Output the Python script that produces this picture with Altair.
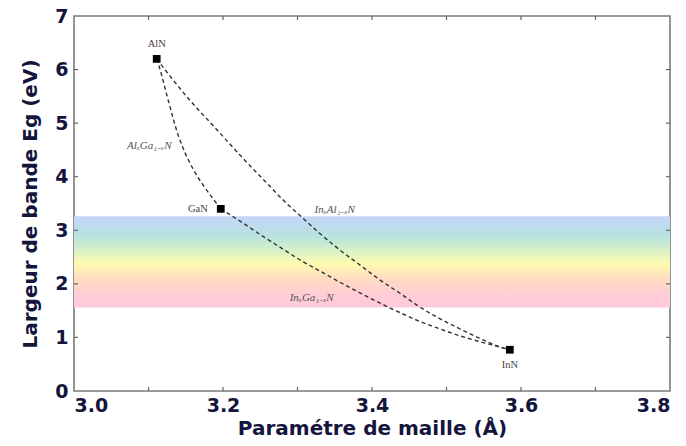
import altair as alt
import pandas as pd

# ---- data ----
compounds = ["AlN", "GaN", "InN"]
comp_a = [3.111, 3.197, 3.585]
comp_eg = [6.20, 3.40, 0.77]

algan_a = [3.111, 3.117, 3.122, 3.127, 3.133, 3.140, 3.149, 3.160, 3.173, 3.186, 3.197]
algan_eg = [6.20, 5.93, 5.66, 5.40, 5.09, 4.77, 4.45, 4.14, 3.85, 3.60, 3.40]

inaln_a = [3.111, 3.122, 3.156, 3.189, 3.223, 3.263, 3.281, 3.303, 3.330, 3.357, 3.384,
           3.411, 3.438, 3.464, 3.491, 3.518, 3.545, 3.572, 3.585]
inaln_eg = [6.20, 6.00, 5.42, 4.92, 4.40, 3.82, 3.56, 3.28, 2.94, 2.63, 2.35,
            2.07, 1.82, 1.57, 1.35, 1.16, 0.98, 0.82, 0.77]

ingan_a = [3.197, 3.223, 3.250, 3.277, 3.303, 3.330, 3.357, 3.384, 3.411, 3.438, 3.464,
           3.491, 3.518, 3.545, 3.572, 3.585]
ingan_eg = [3.40, 3.17, 2.92, 2.68, 2.45, 2.24, 2.03, 1.83, 1.64, 1.46, 1.30,
            1.16, 1.03, 0.92, 0.82, 0.77]

alloy_labels = ["AlₓGa₁₋ₓN", "InₓAl₁₋ₓN", "InₓGa₁₋ₓN"]
alloy_label_a = [3.101, 3.350, 3.319]
alloy_label_eg = [4.58, 3.37, 1.73]

visible_band = [1.56, 3.26]
x_domain = [3.0, 3.8]
y_domain = [0, 7]
x_tick_labels = [3.0, 3.2, 3.4, 3.6, 3.8]
x_minor = [3.1, 3.2, 3.3, 3.4, 3.5, 3.6, 3.7]
y_ticks = [1, 2, 3, 4, 5, 6]

W, H = 596, 375
TXT = "#14143c"
FONT = "DejaVu Sans"

xs = alt.Scale(domain=x_domain, nice=False, zero=False)
ys = alt.Scale(domain=y_domain, nice=False)

xaxis = alt.Axis(values=x_tick_labels, format=".1f", ticks=False, domain=False, grid=False,
                 labelFont=FONT, labelFontWeight="bold", labelFontSize=19, labelColor=TXT,
                 labelPadding=5, title="Paramétre de maille (Å)", titleFont=FONT,
                 titleFontWeight="bold", titleFontSize=20, titleColor=TXT, titlePadding=3)
yaxis = alt.Axis(values=list(range(0, 8)), format="d", ticks=False, domain=False, grid=False,
                 labelFont=FONT, labelFontWeight="bold", labelFontSize=19, labelColor=TXT,
                 labelPadding=6, title="Largeur de bande Eg (eV)", titleFont=FONT,
                 titleFontWeight="bold", titleFontSize=20, titleColor=TXT, titlePadding=14)

band_df = pd.DataFrame({"x": [x_domain[0]], "x2": [x_domain[1]],
                        "y": [visible_band[1]], "y2": [visible_band[0]]})
band = alt.Chart(band_df).mark_rect(
    color=alt.Gradient(gradient="linear", x1=0, y1=0, x2=0, y2=1, stops=[
        alt.GradientStop(offset=0.0, color="#c6d5f8"),
        alt.GradientStop(offset=0.22, color="#b7e3df"),
        alt.GradientStop(offset=0.38, color="#d9f1c6"),
        alt.GradientStop(offset=0.52, color="#fffbb0"),
        alt.GradientStop(offset=0.68, color="#ffdcc0"),
        alt.GradientStop(offset=0.85, color="#ffcdd5"),
        alt.GradientStop(offset=1.0, color="#ffcadc"),
    ])
).encode(
    x=alt.X("x:Q", scale=xs, axis=xaxis),
    x2="x2:Q",
    y=alt.Y("y:Q", scale=ys, axis=yaxis),
    y2="y2:Q",
)

curve_df = pd.concat([
    pd.DataFrame({"a": algan_a, "eg": algan_eg, "s": "AlGaN", "o": range(len(algan_a))}),
    pd.DataFrame({"a": inaln_a, "eg": inaln_eg, "s": "InAlN", "o": range(len(inaln_a))}),
    pd.DataFrame({"a": ingan_a, "eg": ingan_eg, "s": "InGaN", "o": range(len(ingan_a))}),
])
curves = alt.Chart(curve_df).mark_line(
    color="#333333", strokeDash=[4, 3], strokeWidth=1.4, interpolate="monotone"
).encode(
    x=alt.X("a:Q", scale=xs), y=alt.Y("eg:Q", scale=ys),
    detail="s:N", order="o:Q",
)

comp_df = pd.DataFrame({"name": compounds, "a": comp_a, "eg": comp_eg})
points = alt.Chart(comp_df).mark_square(size=60, color="black", opacity=1).encode(
    x=alt.X("a:Q", scale=xs), y=alt.Y("eg:Q", scale=ys))

base_txt = dict(font="Liberation Serif", fontSize=10.5, color="#444444")
lab_aln = alt.Chart(comp_df[comp_df.name == "AlN"]).mark_text(dy=-15, **base_txt).encode(
    x=alt.X("a:Q", scale=xs), y=alt.Y("eg:Q", scale=ys), text="name:N")
lab_gan = alt.Chart(comp_df[comp_df.name == "GaN"]).mark_text(dx=-13, align="right", **base_txt).encode(
    x=alt.X("a:Q", scale=xs), y=alt.Y("eg:Q", scale=ys), text="name:N")
lab_inn = alt.Chart(comp_df[comp_df.name == "InN"]).mark_text(dy=15, **base_txt).encode(
    x=alt.X("a:Q", scale=xs), y=alt.Y("eg:Q", scale=ys), text="name:N")

alloy_df = pd.DataFrame({"t": alloy_labels, "a": alloy_label_a, "eg": alloy_label_eg})
alloys = alt.Chart(alloy_df).mark_text(font="Liberation Serif", fontStyle="italic",
                                       fontSize=11, color="#555555").encode(
    x=alt.X("a:Q", scale=xs), y=alt.Y("eg:Q", scale=ys), text="t:N")

# inward ticks
xt_df = pd.DataFrame({"v": x_minor})
yt_df = pd.DataFrame({"v": y_ticks})
tk = dict(color="#666666", strokeWidth=1.2)
t_bottom = alt.Chart(xt_df).mark_rule(**tk).encode(
    x=alt.X("v:Q", scale=xs), y=alt.value(H), y2=alt.value(H - 4))
t_top = alt.Chart(xt_df).mark_rule(**tk).encode(
    x=alt.X("v:Q", scale=xs), y=alt.value(0), y2=alt.value(4))
t_left = alt.Chart(yt_df).mark_rule(**tk).encode(
    y=alt.Y("v:Q", scale=ys), x=alt.value(0), x2=alt.value(4))
t_right = alt.Chart(yt_df).mark_rule(**tk).encode(
    y=alt.Y("v:Q", scale=ys), x=alt.value(W), x2=alt.value(W - 4))

chart = alt.layer(
    band, curves, points, lab_aln, lab_gan, lab_inn, alloys,
    t_bottom, t_top, t_left, t_right
).properties(
    width=W, height=H,
    autosize=alt.AutoSizeParams(type="none"),
    padding={"left": 74, "top": 16, "right": 16, "bottom": 55},
    background="white",
).configure_view(stroke="#7a7a7a", strokeWidth=1.6)

chart.save("out.html", embed_options={"renderer": "svg", "actions": False})
